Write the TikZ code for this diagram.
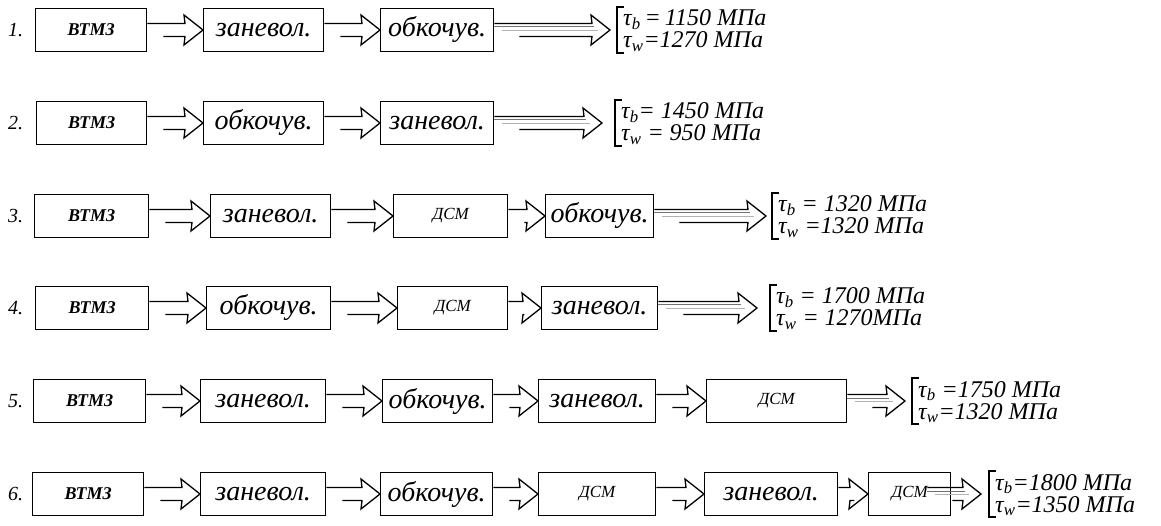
\documentclass[tikz,border=0pt]{standalone}
\usepackage{fontspec}
\setmainfont{Liberation Serif}
\usetikzlibrary{calc}
\newcommand\mytb{τ\textsubscript{b}}
\newcommand\mytw{τ\textsubscript{w}}
\newcommand\harr[2]{%
  \draw[arr] ($(#1.east)+(0,-6.5)$) -- ($(#2.west)+(-18,-6.5)$) -- ($(#2.west)+(-19,-15)$) -- (#2.west)
     -- ($(#2.west)+(-19,15)$) -- ($(#2.west)+(-18,6.5)$) -- ($(#1.east)+(16,6.5)$);}
\newcommand\farr[2]{%
  \draw[arr] ($(#1)+(0,-6.5)$) -- ($(#2)+(-18,-6.5)$) -- ($(#2)+(-19,-15)$) -- (#2)
     -- ($(#2)+(-19,15)$) -- ($(#2)+(-18,6.5)$) -- ($(#1)+(25,6.5)$);
  \draw[shade1] ($(#1)+(0,-3)$) -- ($(#2)+(-16,-3)$);
  \draw[shade2] ($(#1)+(8,0.5)$) -- ($(#2)+(-12,0.5)$);}
\newcommand\brk[3]{%
  \draw[brkline] ($(#1)+(7,-23)$) -- ($(#1)+(0,-23)$) -- ($(#1)+(0,23)$) -- ($(#1)+(7,23)$);
  \node[res] at ($(#1)+(6,-4)$) {#2};
  \node[res] at ($(#1)+(6,18)$) {#3};}
\begin{document}
\begin{tikzpicture}[x=1pt,y=-1pt,
  pbox/.style={draw, line width=1.4pt, minimum height=43pt, inner sep=0pt, anchor=west,
     font=\fontsize{28}{30}\selectfont\itshape},
  sbox/.style={pbox, font=\fontsize{18}{20}\selectfont\bfseries\itshape},
  dbox/.style={pbox, font=\fontsize{17}{20}\selectfont\itshape},
  num/.style={font=\fontsize{20}{22}\selectfont\itshape, anchor=west, inner sep=0pt},
  res/.style={font=\fontsize{24}{24}\selectfont\itshape, anchor=base west, inner sep=0pt},
  arr/.style={line width=1.3pt, line join=miter},
  shade1/.style={line width=1pt, black!55},
  shade2/.style={line width=0.8pt, black!30},
  brkline/.style={line width=1.7pt}]
\useasboundingbox (0,0) rectangle (1161,526);
% Row 1
\node[num] (n1) at (8,30) {1.};
\node[sbox, minimum width=111pt] (r1a) at (35,30) {ВТМЗ};
\node[pbox, minimum width=120pt] (r1b) at (203,30) {заневол.};
\node[pbox, minimum width=113pt] (r1c) at (380,30) {обкочув.};
\coordinate (t1) at (610,30); \coordinate (k1) at (617,30);
\harr{r1a}{r1b} \harr{r1b}{r1c} \farr{r1c.east}{t1}
\brk{k1}{\mytb\,=\,1150 МПа}{\mytw=1270 МПа}
% Row 2
\node[num] (n2) at (8,123) {2.};
\node[sbox, minimum width=110pt] (r2a) at (36,123) {ВТМЗ};
\node[pbox, minimum width=120pt] (r2b) at (203,123) {обкочув.};
\node[pbox, minimum width=113pt] (r2c) at (380,123) {заневол.};
\coordinate (t2) at (602,123); \coordinate (k2) at (615,123);
\harr{r2a}{r2b} \harr{r2b}{r2c} \farr{r2c.east}{t2}
\brk{k2}{\mytb= 1450 МПа}{\mytw{} = 950 МПа}
% Row 3
\node[num] (n3) at (8,216) {3.};
\node[sbox, minimum width=114pt] (r3a) at (34,216) {ВТМЗ};
\node[pbox, minimum width=120pt] (r3b) at (210,216) {заневол.};
\node[dbox, minimum width=114pt] (r3c) at (393,216) {ДСМ};
\node[pbox, minimum width=108pt] (r3d) at (545,216) {обкочув.};
\coordinate (t3) at (766,216); \coordinate (k3) at (772,216);
\harr{r3a}{r3b} \harr{r3b}{r3c} \harr{r3c}{r3d} \farr{r3d.east}{t3}
\brk{k3}{\mytb{} = 1320 МПа}{\mytw{} =1320 МПа}
% Row 4
\node[num] (n4) at (8,308) {4.};
\node[sbox, minimum width=113pt] (r4a) at (35,308) {ВТМЗ};
\node[pbox, minimum width=124pt] (r4b) at (206,308) {обкочув.};
\node[dbox, minimum width=110pt] (r4c) at (397,308) {ДСМ};
\node[pbox, minimum width=116pt] (r4d) at (541,308) {заневол.};
\coordinate (t4) at (757,308); \coordinate (k4) at (770,308);
\harr{r4a}{r4b} \harr{r4b}{r4c} \harr{r4c}{r4d} \farr{r4d.east}{t4}
\brk{k4}{\mytb{} = 1700 МПа}{\mytw{} = 1270МПа}
% Row 5
\node[num] (n5) at (8,401) {5.};
\node[sbox, minimum width=112pt] (r5a) at (33,401) {ВТМЗ};
\node[pbox, minimum width=125pt] (r5b) at (200,401) {заневол.};
\node[pbox, minimum width=110pt] (r5c) at (382,401) {обкочув.};
\node[pbox, minimum width=117pt] (r5d) at (538,401) {заневол.};
\node[dbox, minimum width=140pt] (r5e) at (706,401) {ДСМ};
\coordinate (t5) at (905,401); \coordinate (k5) at (912,401);
\harr{r5a}{r5b} \harr{r5b}{r5c} \harr{r5c}{r5d} \harr{r5d}{r5e} \farr{r5e.east}{t5}
\brk{k5}{\mytb{} =1750 МПа}{\mytw=1320 МПа}
% Row 6
\node[num] (n6) at (8,494) {6.};
\node[sbox, minimum width=111pt] (r6a) at (32,494) {ВТМЗ};
\node[pbox, minimum width=125pt] (r6b) at (200,494) {заневол.};
\node[pbox, minimum width=112pt] (r6c) at (380,494) {обкочув.};
\node[dbox, minimum width=117pt] (r6d) at (538,494) {ДСМ};
\node[pbox, minimum width=133pt] (r6e) at (704,494) {заневол.};
\node[dbox, minimum width=82pt] (r6f) at (868,494) {ДСМ\hspace{36pt}};
\coordinate (s6) at ($(r6f.east)+(-24,0)$);
\coordinate (t6) at (981,494); \coordinate (k6) at (989,494);
\harr{r6a}{r6b} \harr{r6b}{r6c} \harr{r6c}{r6d} \harr{r6d}{r6e} \harr{r6e}{r6f} \farr{s6}{t6}
\brk{k6}{\mytb=1800 МПа}{\mytw=1350 МПа}
\end{tikzpicture}
\end{document}
